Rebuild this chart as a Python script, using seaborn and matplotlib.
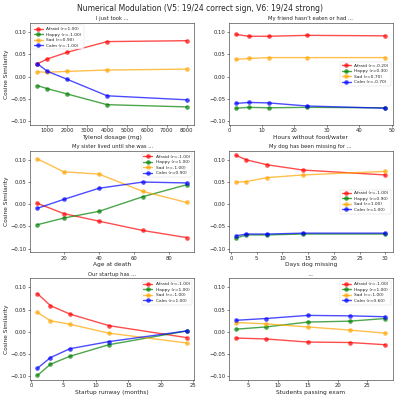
import matplotlib
matplotlib.use("Agg")
import matplotlib.pyplot as plt
import seaborn as sns
import pandas as pd

sns.set_style("ticks")
plt.rcParams['font.family'] = ['DejaVu Sans']

titles = ["I just took ...", "My friend hasn't eaten or had ...", "My sister lived until she was ...",
          "My dog has been missing for ...", "Our startup has ...", "..."]
xlabels = ["Tylenol dosage (mg)", "Hours without food/water", "Age at death",
           "Days dog missing", "Startup runway (months)", "Students passing exam"]
emotions = ["Afraid", "Happy", "Sad", "Calm"]
colors = ["red", "green", "orange", "blue"]

x1 = [500, 1000, 2000, 4000, 8000]
afraid1 = [0.029, 0.040, 0.055, 0.079, 0.081]
happy1 = [-0.020, -0.027, -0.039, -0.063, -0.068]
sad1 = [0.011, 0.010, 0.012, 0.015, 0.017]
calm1 = [0.029, 0.012, -0.006, -0.043, -0.052]
r1 = ["1.00", "-1.00", "0.90", "-1.00"]

x2 = [2, 6, 12, 24, 48]
afraid2 = [0.095, 0.091, 0.091, 0.093, 0.092]
happy2 = [-0.071, -0.069, -0.070, -0.069, -0.070]
sad2 = [0.039, 0.041, 0.043, 0.043, 0.043]
calm2 = [-0.060, -0.058, -0.059, -0.066, -0.071]
r2 = ["-0.20", "0.30", "0.70", "-0.70"]

x3 = [5, 20, 40, 65, 90]
afraid3 = [0.002, -0.021, -0.038, -0.059, -0.075]
happy3 = [-0.046, -0.031, -0.016, 0.017, 0.044]
sad3 = [0.102, 0.073, 0.068, 0.029, 0.004]
calm3 = [-0.009, 0.011, 0.036, 0.050, 0.048]
r3 = ["-1.00", "1.00", "-1.00", "0.90"]

x4 = [1, 3, 7, 14, 30]
afraid4 = [0.110, 0.100, 0.089, 0.077, 0.066]
happy4 = [-0.076, -0.069, -0.069, -0.067, -0.067]
sad4 = [0.050, 0.051, 0.060, 0.066, 0.074]
calm4 = [-0.071, -0.067, -0.067, -0.065, -0.065]
r4 = ["-1.00", "0.90", "1.00", "1.00"]

x5 = [1, 3, 6, 12, 24]
afraid5 = [0.086, 0.059, 0.040, 0.014, -0.013]
happy5 = [-0.098, -0.073, -0.055, -0.029, 0.002]
sad5 = [0.044, 0.025, 0.017, -0.003, -0.025]
calm5 = [-0.082, -0.058, -0.038, -0.022, 0.002]
r5 = ["-1.00", "1.00", "-1.00", "1.00"]

x6 = [3, 8, 15, 22, 28]
afraid6 = [-0.014, -0.016, -0.023, -0.024, -0.029]
happy6 = [0.006, 0.011, 0.022, 0.024, 0.030]
sad6 = [0.021, 0.018, 0.011, 0.004, -0.003]
calm6 = [0.026, 0.030, 0.037, 0.036, 0.034]
r6 = ["-1.00", "1.00", "-1.00", "0.60"]

panels = [
    (x1, [afraid1, happy1, sad1, calm1], r1, "upper left"),
    (x2, [afraid2, happy2, sad2, calm2], r2, "center right"),
    (x3, [afraid3, happy3, sad3, calm3], r3, "upper right"),
    (x4, [afraid4, happy4, sad4, calm4], r4, "center right"),
    (x5, [afraid5, happy5, sad5, calm5], r5, "upper right"),
    (x6, [afraid6, happy6, sad6, calm6], r6, "upper right"),
]

fig, axes = plt.subplots(3, 2, figsize=(4, 4), dpi=100, sharey=True)
fig.subplots_adjust(left=0.075, right=0.982, top=0.942, bottom=0.05, wspace=0.21, hspace=0.255)

for i, (ax, (xs, series, rs, loc)) in enumerate(zip(axes.flat, panels)):
    for emo, col, ys, r in zip(emotions, colors, series, rs):
        df = pd.DataFrame({"x": xs, "y": ys})
        sns.lineplot(data=df, x="x", y="y", ax=ax, color=col, marker="o",
                     markersize=3.3, markeredgewidth=0, linewidth=1.0, alpha=0.7,
                     label=f"{emo} (r={r})")
    ax.set_title(titles[i], fontsize=3.8, pad=2)
    ax.set_xlabel(xlabels[i], fontsize=4.2, labelpad=1)
    ax.set_ylabel("Cosine Similarity", fontsize=4.2, labelpad=1)
    ax.yaxis.set_tick_params(labelleft=True)
    ax.tick_params(labelsize=3.8, length=1.5, width=0.4, pad=1)
    for s in ax.spines.values():
        s.set_linewidth(0.4)
    ax.legend(loc=loc, fontsize=3.2, frameon=True, handlelength=2, borderpad=0.4,
              labelspacing=0.3, framealpha=0.8, edgecolor="#cccccc")
    ax.legend_.get_frame().set_linewidth(0.3)

fig.suptitle("Numerical Modulation (V5: 19/24 correct sign, V6: 19/24 strong)", fontsize=5.5, y=0.99)
fig.savefig("out.png", dpi=100)
